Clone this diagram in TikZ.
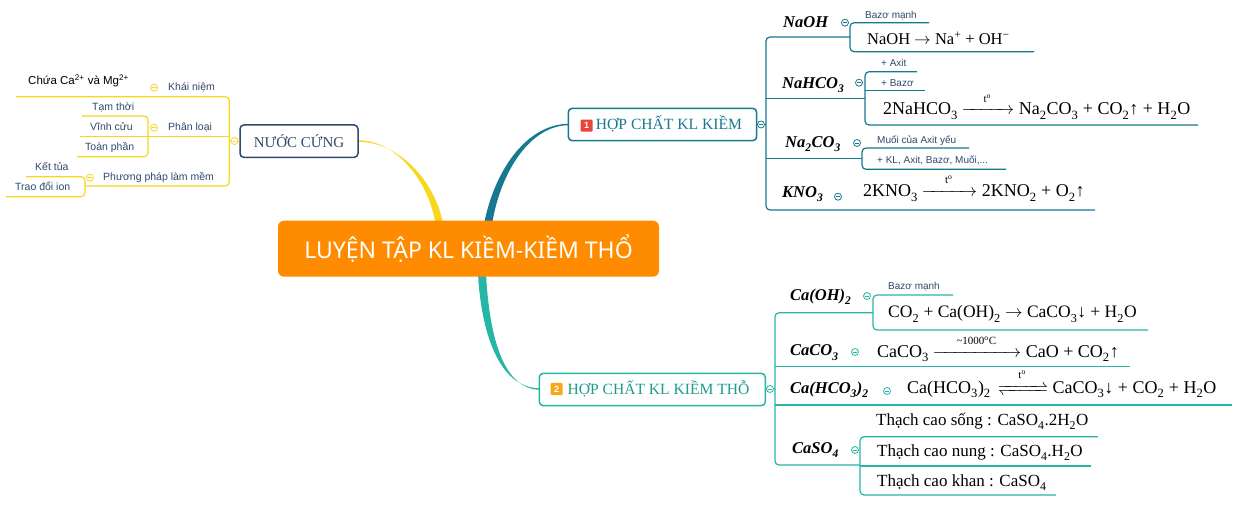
\documentclass[tikz,border=0pt]{standalone}
\usepackage{fontspec}
\usepackage{mathtools}
\usepackage{unicode-math}
\setmainfont{Liberation Serif}
\newfontfamily\sansf{Liberation Sans}
\newfontfamily\notof{Noto Sans}
\newcommand{\chlo}[1]{\textsubscript{#1}}
\newcommand{\chhi}[1]{\textsuperscript{#1}}
\newcommand{\tlabel}[2]{\makebox[#1]{\fontsize{11}{11}\selectfont #2}}
\definecolor{ylw}{HTML}{F9D71C}
\definecolor{dteal}{HTML}{16798F}
\definecolor{lteal}{HTML}{25B6A6}
\definecolor{navy}{HTML}{2F4B6B}
\definecolor{lblc}{HTML}{2E4A6E}
\definecolor{orng}{HTML}{FF8C00}
\definecolor{bred}{HTML}{E8453C}
\definecolor{bylw}{HTML}{F7A81B}
\tikzset{
  lab/.style={anchor=base west, inner sep=0, font=\fontsize{16.5}{18}\selectfont\bfseries\itshape},
  eq/.style={anchor=base west, inner sep=0, font=\fontsize{17.5}{20}\selectfont, text=black},
  eqb/.style={anchor=base west, inner sep=0, font=\fontsize{18}{20}\selectfont, text=black},
  eqs/.style={anchor=base west, inner sep=0, font=\fontsize{17}{20}\selectfont, text=black},
  sm/.style={anchor=base west, inner sep=0, font=\sansf\fontsize{10}{11}\selectfont, text=lblc},
  lsm/.style={anchor=base west, inner sep=0, font=\sansf\fontsize{10.5}{12}\selectfont, text=lblc},
  colc/.style={circle, draw=#1, fill=white, minimum size=7pt, inner sep=0, line width=0.8pt,
    path picture={\draw[#1, line width=0.6pt] ([xshift=-1.8pt]path picture bounding box.center) -- ([xshift=1.8pt]path picture bounding box.center);}},
  ytree/.style={draw=ylw, line width=1.2pt},
  dtree/.style={draw=dteal, line width=1.2pt},
  ltree/.style={draw=lteal, line width=1.2pt},
  topicbox/.style={draw=#1, line width=1.5pt, rounded corners=4pt, fill=white, inner sep=0},
  badge/.style={inner sep=0, minimum size=12pt, text=white, font=\sansf\bfseries\fontsize{9}{9}\selectfont, rounded corners=1pt},
}
\begin{document}
\begin{tikzpicture}[x=1pt,y=-1pt]
\useasboundingbox (0,0) rectangle (1242,510);
\fill[white] (0,0) rectangle (1242,510);

% main branch curves (tapered)
\fill[ylw] (358,140.3) .. controls (397,140.3) and (429,182) .. (435.5,224) -- (443,224) .. controls (435,180) and (398,141.7) .. (358,141.7) -- cycle;
\fill[dteal] (484,224) .. controls (495,168) and (528,123.8) .. (569,123.8) -- (569,125.2) .. controls (531,125.2) and (501,170) .. (492,224) -- cycle;
\fill[lteal] (478,274) .. controls (481,330) and (498,388.3) .. (540,388.3) -- (540,389.7) .. controls (501,389.7) and (489,330) .. (486,274) -- cycle;

% central node
\node[fill=orng, rounded corners=6pt, minimum width=381pt, minimum height=56pt, inner sep=0,
  text=white, font=\notof\fontsize{23}{26}\selectfont] (root) at (468.5,248.7) {LUYỆN TẬP KL KIỀM-KIỀM THỔ};

% topic boxes
\node[topicbox=navy, minimum width=118pt, minimum height=32.5pt, font=\fontsize{15}{17}\selectfont, text=navy] (nc) at (299,141.2) {NƯỚC CỨNG};
\node[topicbox=dteal, minimum width=188.4pt, minimum height=32.4pt] (k1) at (662.5,124.5) {};
\node[badge, fill=bred] (b1) at (586.5,125.7) {1};
\node[anchor=base west, inner sep=0, font=\fontsize{15.6}{17}\selectfont, text=dteal] (k1t) at (595.7,129.8) {HỢP CHẤT KL KIỀM};
\node[topicbox=lteal, minimum width=226pt, minimum height=32.4pt] (k2) at (652.3,389.5) {};
\node[badge, fill=bylw] (b2) at (556.7,389) {2};
\node[anchor=base west, inner sep=0, font=\fontsize{15.6}{17}\selectfont, text=lteal!85!black] (k2t) at (567.3,394.8) {HỢP CHẤT KL KIỀM THỖ};

% ---------- left tree (yellow)
\draw[ytree] (nc.west) -- (229.3,141);
\draw[ytree, rounded corners=4pt] (16,96.7) -- (229.3,96.7) -- (229.3,186) -- (85,186);
\draw[ytree] (229.3,136.7) -- (80,136.7);
\draw[ytree, rounded corners=4pt] (82,116) -- (148,116) -- (148,156.7) -- (77,156.7);
\draw[ytree, rounded corners=4pt] (26,176.7) -- (85,176.7) -- (85,196.7) -- (6,196.7);
\node[anchor=base west, inner sep=0, font=\sansf\fontsize{11.5}{13}\selectfont] (l0) at (28,85) {Chứa Ca\chhi{2+} và Mg\chhi{2+}};
\node[lsm] (l1) at (168,90.7) {Khái niệm};
\node[lsm] (l2) at (168,130.7) {Phân loại};
\node[lsm] (l21) at (92,110.7) {Tạm thời};
\node[lsm] (l22) at (90,130.7) {Vĩnh cửu};
\node[lsm] (l23) at (85,150.7) {Toàn phần};
\node[lsm] (l3) at (103,180.7) {Phương pháp làm mềm};
\node[lsm] (l31) at (35,170.7) {Kết tủa};
\node[lsm] (l32) at (15,190.7) {Trao đổi ion};
\node[colc=ylw] (c0) at (234.5,141) {};
\node[colc=ylw] (c1) at (154,87.7) {};
\node[colc=ylw] (c2) at (154,127.7) {};
\node[colc=ylw] (c3) at (90,177.7) {};

% ---------- top-right tree (dark teal)
\draw[dtree] (k1.east) -- (766,124.5);
\draw[dtree, rounded corners=4pt] (850,37) -- (766,37) -- (766,210) -- (1095,210);
\draw[dtree] (766,98.3) -- (865,98.3);
\draw[dtree] (766,158.3) -- (862,158.3);
\draw[dtree, rounded corners=4pt] (929,22.7) -- (850,22.7) -- (850,51.7) -- (1034,51.7);
\draw[dtree, rounded corners=4pt] (917,71.7) -- (865,71.7) -- (865,125) -- (1198,125);
\draw[dtree] (865,90.7) -- (925,90.7);
\draw[dtree, rounded corners=4pt] (969,148) -- (862,148) -- (862,169.3) -- (1006,169.3);

\node[lab] (naoh) at (783,27.3) {NaOH};
\node[sm] (naoh1) at (865,18.3) {Bazơ mạnh};
\node[eq, font=\fontsize{16.5}{20}\selectfont] (naoh2) at (867,44.3) {NaOH $\rightarrow$ Na\chhi{+} + OH\chhi{−}};
\node[lab] (nahco) at (782,88.3) {NaHCO\chlo{3}};
\node[sm] (nahco1) at (881,66.7) {+ Axit};
\node[sm] (nahco2) at (881,86.7) {+ Bazơ};
\node[eqb] (nahco3) at (883,115) {2NaHCO\chlo{3} $\xrightarrow{\tlabel{42pt}{t\chhi{o}}}$ Na\chlo{2}CO\chlo{3} + CO\chlo{2}↑ + H\chlo{2}O};
\node[lab] (naco) at (785,147.3) {Na\chlo{2}CO\chlo{3}};
\node[sm] (naco1) at (877,144) {Muối của Axit yếu};
\node[sm] (naco2) at (877,164) {+ KL, Axit, Bazơ, Muối,...};
\node[lab] (kno) at (782,197.3) {KNO\chlo{3}};
\node[eqb] (kno1) at (863,196.7) {2KNO\chlo{3} $\xrightarrow{\tlabel{45pt}{t\chhi{o}}}$ 2KNO\chlo{2} + O\chlo{2}↑};
\node[colc=dteal] (d0) at (761,124.5) {};
\node[colc=dteal] (d1) at (845,22.7) {};
\node[colc=dteal] (d2) at (859,82.7) {};
\node[colc=dteal] (d3) at (857,143) {};
\node[colc=dteal] (d4) at (838,196.7) {};

% ---------- bottom-right tree (light teal)
\draw[ltree] (k2.east) -- (775,389);
\draw[ltree, rounded corners=4pt] (873,312.7) -- (775,312.7) -- (775,465) -- (860,465);
\draw[ltree] (775,366.7) -- (1130,366.7);
\draw[ltree] (775,405) -- (1232,405);
\draw[ltree, rounded corners=4pt] (953,295) -- (873,295) -- (873,330) -- (1148,330);
\draw[ltree, rounded corners=4pt] (1098,436.7) -- (860,436.7) -- (860,495) -- (1056,495);
\draw[ltree] (860,466) -- (1091,466);

\node[lab] (caoh) at (790,300.7) {Ca(OH)\chlo{2}};
\node[sm] (caoh1) at (888,289.3) {Bazơ mạnh};
\node[eq] (caoh2) at (888,317.7) {CO\chlo{2} + Ca(OH)\chlo{2} $\rightarrow$ CaCO\chlo{3}↓ + H\chlo{2}O};
\node[lab] (caco) at (790,356) {CaCO\chlo{3}};
\node[eqb] (caco1) at (877,357.3) {CaCO\chlo{3} $\xrightarrow{\tlabel{78pt}{\textasciitilde 1000\chhi{o}C}}$ CaO + CO\chlo{2}↑};
\node[lab] (cahco) at (790,393.3) {Ca(HCO\chlo{3})\chlo{2}};
\node[eqb] (cahco1) at (907,393.3) {Ca(HCO\chlo{3})\chlo{2}\, $\xrightleftharpoons{\tlabel{40pt}{t\chhi{o}}}$ CaCO\chlo{3}↓ + CO\chlo{2} + H\chlo{2}O};
\node[lab] (caso) at (792,453.3) {CaSO\chlo{4}};
\node[eqs] (caso1) at (876,425.7) {Thạch cao sống : CaSO\chlo{4}.2H\chlo{2}O};
\node[eqs] (caso2) at (877,456.7) {Thạch cao nung : CaSO\chlo{4}.H\chlo{2}O};
\node[eqs] (caso3) at (877,486.7) {Thạch cao khan : CaSO\chlo{4}};
\node[colc=lteal] (e0) at (770,389) {};
\node[colc=lteal] (e1) at (867,296) {};
\node[colc=lteal] (e2) at (855,352) {};
\node[colc=lteal] (e3) at (887,391) {};
\node[colc=lteal] (e4) at (855,450) {};
\end{tikzpicture}
\end{document}
